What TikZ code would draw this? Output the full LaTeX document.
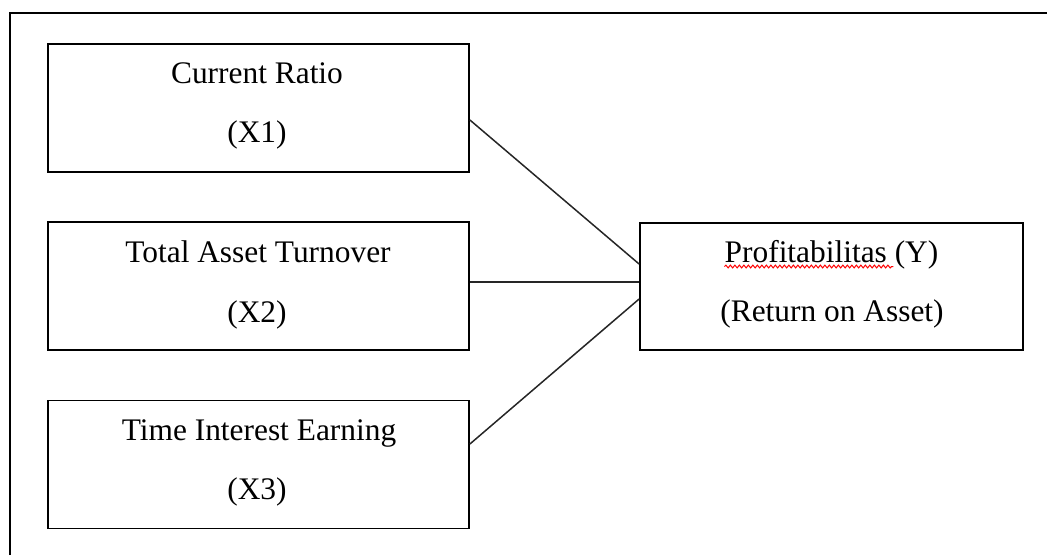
\documentclass[tikz,border=0pt]{standalone}
\usepackage{fontspec}
\setmainfont{Liberation Serif}
\usetikzlibrary{calc,decorations.pathmorphing}
\begin{document}
\begin{tikzpicture}[x=1pt,y=-1pt,
  boxstyle/.style={draw, line width=1.8pt, rectangle, inner sep=0pt, minimum width=421pt, minimum height=128pt},
  lbl/.style={anchor=base, inner sep=0pt, font=\fontsize{31.4}{36}\selectfont},
  conn/.style={line width=1.5pt, draw=black!85},
  frame/.style={line width=1.9pt}]
\useasboundingbox (0,0) rectangle (1047,555);
\coordinate (fa) at (10,555);
\coordinate (fb) at (10,13);
\coordinate (fc) at (1047,13);
\draw[frame] (fa) -- (fb) -- (fc);

\node[boxstyle] (b1) at (258.5,108) {};
\node[boxstyle] (b2) at (258.5,286) {};
\node[boxstyle] (b3) at (258.5,464.5) {};
\node[boxstyle, minimum width=383pt, minimum height=127pt] (y) at (831.5,286.5) {};

\node[lbl] (t1a) at (257,83) {Current Ratio};
\node[lbl] (t1b) at (257,142) {(X1)};
\node[lbl] (t2a) at (258,262) {Total Asset Turnover};
\node[lbl] (t2b) at (257,322) {(X2)};
\node[lbl] (t3a) at (259,440) {Time Interest Earning};
\node[lbl] (t3b) at (257,499) {(X3)};
\node[lbl] (ty1) at (831.5,262) {Profitabilitas (Y)};
\node[lbl] (ty2) at (832,321) {(Return on Asset)};

\draw[red, line width=1pt, decorate, decoration={snake, amplitude=1.4pt, segment length=4.5pt}]
  ($(ty1.base west)+(0,4.5)$) -- ($(ty1.base west)+(169,4.5)$);

\draw[conn] ($(b1.east)+(0,12)$) -- ($(y.west)+(0,-22.5)$);
\draw[conn] ($(b2.east)+(0,-4)$) -- ($(y.west)+(0,-4.5)$);
\draw[conn] ($(b3.east)+(0,-20.5)$) -- ($(y.west)+(0,12.5)$);
\end{tikzpicture}
\end{document}
